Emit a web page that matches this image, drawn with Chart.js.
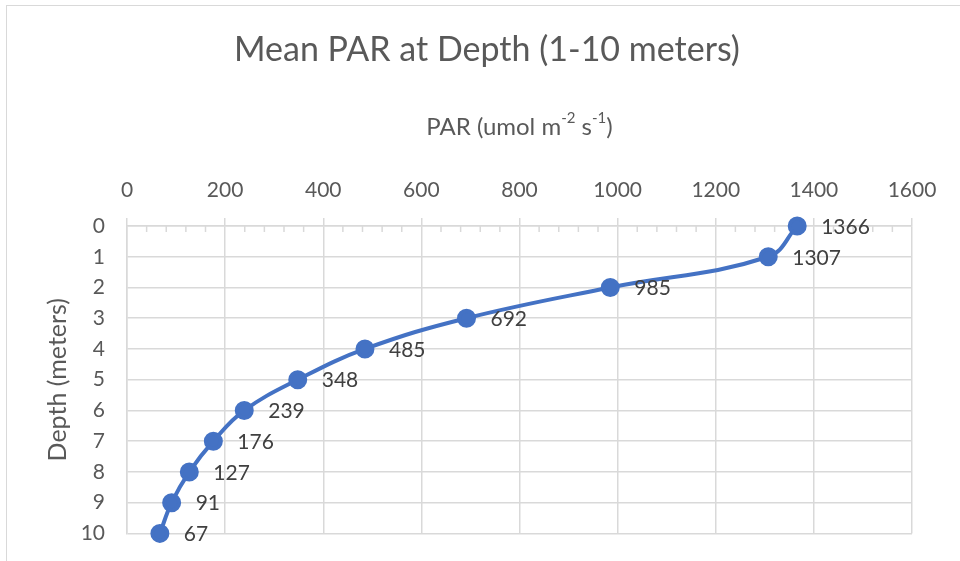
<!DOCTYPE html>
<html><head><meta charset="utf-8">
<script src="https://cdn.jsdelivr.net/npm/chart.js@4/dist/chart.umd.min.js"></script>
<style>
html,body{margin:0;padding:0;background:#fff;overflow:hidden;width:960px;height:561px;}
#frame{position:absolute;left:6px;top:5px;width:2000px;height:2000px;border:1.5px solid #d9d9d9;box-sizing:border-box;}
#c{position:absolute;left:0;top:0;}
</style></head>
<body>
<div id="frame"></div>
<canvas id="c" width="960" height="568"></canvas>
<script>
const depths = [0, 1, 2, 3, 4, 5, 6, 7, 8, 9, 10];
const parValues = [1366, 1307, 985, 692, 485, 348, 239, 176, 127, 91, 67];
const xTickValues = [0, 200, 400, 600, 800, 1000, 1200, 1400, 1600];
const yTickValues = [0, 1, 2, 3, 4, 5, 6, 7, 8, 9, 10];
const chartTitle = "Mean PAR at Depth (1-10 meters)";
const yTitle = "Depth (meters)";

const FONT = "Lato, 'Open Sans', sans-serif";
const points = parValues.map((v, i) => ({x: v, y: depths[i]}));

const overlay = {
  id: 'overlay',
  beforeDatasetsDraw(chart) {
    const ctx = chart.ctx;
    const xs = chart.scales.x;
    const area = chart.chartArea;
    ctx.save();
    ctx.strokeStyle = '#d9d9d9';
    ctx.lineWidth = 1.5;
    for (let v = 40; v < 1600; v += 40) {
      if (v % 200 === 0) continue;
      const px = xs.getPixelForValue(v);
      ctx.beginPath(); ctx.moveTo(px, area.top); ctx.lineTo(px, area.top + 6); ctx.stroke();
    }
    ctx.restore();
  },
  afterDraw(chart) {
    const ctx = chart.ctx;
    const area = chart.chartArea;
    ctx.save();
    // data labels
    const meta = chart.getDatasetMeta(0);
    ctx.fillStyle = '#404040';
    ctx.font = "21px " + FONT;
    ctx.textAlign = 'left';
    ctx.textBaseline = 'middle';
    meta.data.forEach((pt, i) => {
      ctx.fillText(String(parValues[i]), pt.x + 24, pt.y + 1);
    });
    // main title
    ctx.fillStyle = '#595959';
    ctx.font = "34px " + FONT;
    ctx.textAlign = 'center';
    ctx.fillText(chartTitle, 487, 50);
    // x axis title with superscripts
    const cx = (area.left + area.right) / 2;
    const parts = [["PAR (umol m", 0], ["-2", 1], [" s", 0], ["-1", 1], [")", 0]];
    const big = "24px " + FONT, small = "15px " + FONT;
    let total = 0;
    parts.forEach(p => { ctx.font = p[1] ? small : big; total += ctx.measureText(p[0]).width; });
    let x = cx - total / 2;
    ctx.textAlign = 'left';
    parts.forEach(p => {
      ctx.font = p[1] ? small : big;
      ctx.fillText(p[0], x, p[1] ? 118 : 127);
      x += ctx.measureText(p[0]).width;
    });
    // y axis title
    ctx.translate(58, (area.top + area.bottom) / 2);
    ctx.rotate(-Math.PI / 2);
    ctx.font = "25px " + FONT;
    ctx.textAlign = 'center';
    ctx.fillText(yTitle, 0, 0);
    ctx.restore();
  }
};

new Chart(document.getElementById('c'), {
  type: 'scatter',
  data: {
    datasets: [{
      data: points,
      showLine: true,
      clip: false,
      borderColor: '#4472C4',
      backgroundColor: '#4472C4',
      borderWidth: 4,
      pointRadius: 7.5,
      pointHoverRadius: 7.5,
      tension: 0.4
    }]
  },
  options: {
    responsive: false,
    animation: false,
    layout: {padding: {left: 0, right: 48, top: 0, bottom: 0}},
    plugins: {legend: {display: false}, tooltip: {enabled: false}, title: {display: false}},
    scales: {
      x: {
        type: 'linear', position: 'top', min: 0, max: 1600,
        afterFit(s) { s.height = 226; },
        afterBuildTicks(s) { s.ticks = xTickValues.map(v => ({value: v})); },
        grid: {color: '#d9d9d9', lineWidth: 1.5, tickLength: 8, drawTicks: true},
        border: {color: '#d9d9d9', width: 1.5},
        ticks: {color: '#595959', font: {family: FONT, size: 21}, padding: 15, maxRotation: 0,
                callback: v => String(v)}
      },
      y: {
        type: 'linear', reverse: true, min: 0, max: 10,
        afterFit(s) { s.width = 127; },
        afterBuildTicks(s) { s.ticks = yTickValues.map(v => ({value: v})); },
        grid: {color: '#d9d9d9', lineWidth: 1.5, drawTicks: false},
        border: {color: '#d9d9d9', width: 1.5},
        ticks: {color: '#595959', font: {family: FONT, size: 21}, padding: 22,
                callback: v => String(v)}
      }
    }
  },
  plugins: [overlay]
});
</script>
</body></html>
